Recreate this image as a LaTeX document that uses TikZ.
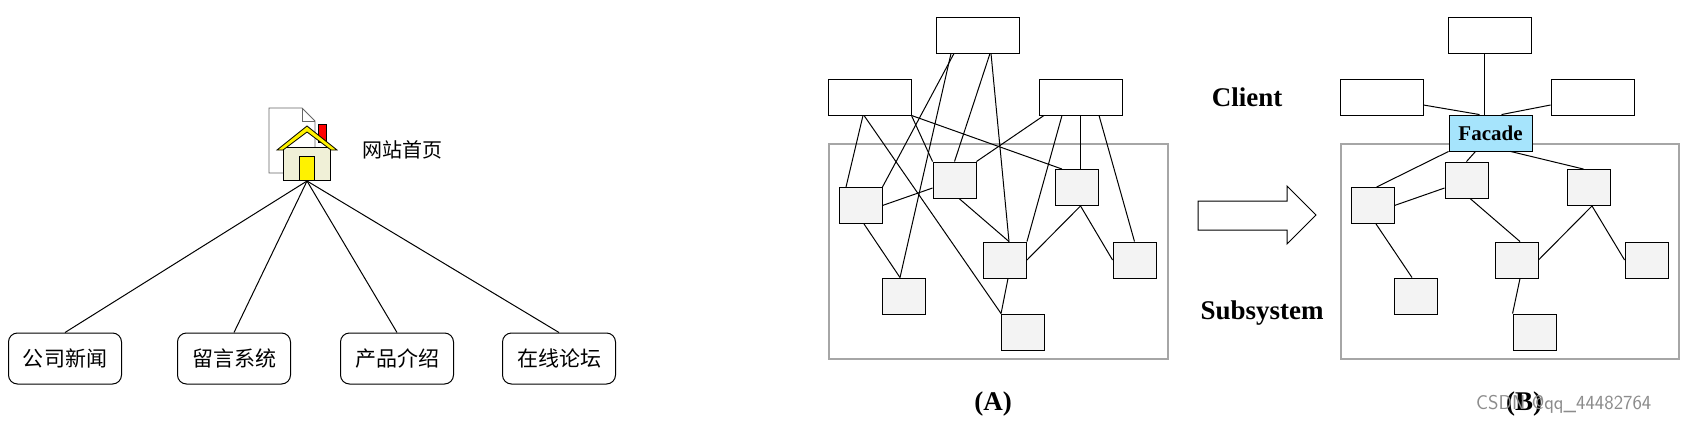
\documentclass[tikz,border=0pt]{standalone}
\usepackage{fontspec}
\setmainfont{Liberation Serif}
\newfontfamily\cjk{Noto Sans CJK SC}
\definecolor{subfill}{RGB}{243,243,243}
\definecolor{facadefill}{RGB}{166,228,252}
\definecolor{bodyfill}{RGB}{240,240,215}
\begin{document}
\begin{tikzpicture}[x=1pt,y=-1pt,
  every node/.style={inner sep=0pt},
  cl/.style={draw,line width=0.9pt,fill=white,minimum width=83pt,minimum height=36pt},
  sb/.style={draw,line width=0.9pt,fill=subfill,minimum width=43pt,minimum height=36pt},
  sys/.style={draw=black!35,line width=1.2pt},
  ln/.style={line width=1pt},
  cn/.style={draw,rounded corners=9pt,line width=1pt,minimum width=113pt,minimum height=51pt,font=\cjk\fontsize{21}{21}\selectfont},
  lbl/.style={font=\bfseries\fontsize{27}{27}\selectfont}]
\fill[white] (0,0) rectangle (1693,423);
\useasboundingbox (0,0) rectangle (1693,423);
% ---- left: website
\filldraw[fill=white,draw=black!60,line width=0.8pt] (269,108)--(302,108)--(315,121)--(315,173)--(269,173)--cycle;
\draw[black!60,line width=0.8pt] (302,108)--(302,121)--(315,121);
\filldraw[fill=red,draw=black,line width=0.6pt] (318,124) rectangle (326,142);
\filldraw[fill=bodyfill,draw=black,line width=0.8pt] (283,147) rectangle (330,180);
\filldraw[fill=yellow,draw=black,line width=0.8pt] (277,150)--(307,126)--(337,150)--(331,150)--(307,132)--(283,150)--cycle;
\filldraw[fill=yellow,draw=black,line width=0.8pt] (299,156) rectangle (314,180);
\coordinate (hub) at (307,181);
\node[font=\cjk\fontsize{20}{20}\selectfont,anchor=west] (home) at (362,150) {网站首页};
\node[cn] (n1) at (65,358.5) {公司新闻};
\node[cn] (n2) at (234,358.5) {留言系统};
\node[cn] (n3) at (397,358.5) {产品介绍};
\node[cn] (n4) at (559,358.5) {在线论坛};
\foreach \n in {n1,n2,n3,n4} \draw[ln] (hub) -- (\n.north);
% ---- (A)
\draw[sys] (829,144) rectangle (1168,359);
\node[cl] (at) at (978,35) {};
\node[cl] (al) at (869.5,97) {};
\node[cl] (ar) at (1080.5,97) {};
\node[sb] (s1) at (860.5,205.5) {};
\node[sb] (s2) at (954.5,180) {};
\node[sb] (s3) at (1077,187.5) {};
\node[sb] (s4) at (1005,260) {};
\node[sb] (s5) at (1134.5,260) {};
\node[sb] (s6) at (904,296) {};
\node[sb] (s7) at (1023,332) {};
\begin{scope}[ln]
\draw ([xshift=-6.5pt]al.south) -- ([xshift=-14.5pt]s1.north);
\draw ([xshift=-5.5pt]al.south) -- (s7.north west);
\draw (al.south east) -- ([xshift=-15pt]s3.north);
\draw (al.south east) -- (s2.north west);
\draw ([xshift=-24pt]at.south) -- (s1.north east);
\draw ([xshift=-27pt]at.south) -- ([xshift=-4pt]s6.north);
\draw ([xshift=12pt]at.south) -- (s2.north);
\draw ([xshift=13pt]at.south) -- ([xshift=4pt]s4.north);
\draw ([xshift=-36.5pt]ar.south) -- (s2.north east);
\draw ([xshift=-18.5pt]ar.south) -- (s4.north east);
\draw (ar.south) -- ([xshift=3.5pt]s3.north);
\draw ([xshift=18.5pt]ar.south) -- (s5.north);
\draw (s1.east) -- ([yshift=-8pt]s2.west);
\draw ([xshift=3.5pt]s1.south) -- ([xshift=-4pt]s6.north);
\draw ([xshift=4.5pt]s2.south) -- ([xshift=4pt]s4.north);
\draw ([xshift=3.5pt]s3.south) -- (s4.east);
\draw ([xshift=3.5pt]s3.south) -- (s5.west);
\draw ([xshift=3pt]s4.south) -- (s7.north west);
\end{scope}
\node[lbl] (la) at (993,404) {(A)};
% ---- arrow
\draw[line width=1pt,fill=white] (1198,201)--(1287,201)--(1287,186)--(1316,215)--(1287,244)--(1287,230)--(1198,230)--cycle;
\node[lbl] (client) at (1247,97) {Client};
\node[lbl] (subsys) at (1262,313) {Subsystem};
% ---- (B)
\draw[sys] (1341,144) rectangle (1679,359);
\node[cl] (bt) at (1489.5,35) {};
\node[cl] (bl) at (1381.5,97) {};
\node[cl] (br) at (1592.5,97) {};
\node[sb] (b1) at (1372.5,205.5) {};
\node[sb] (b2) at (1466.5,180) {};
\node[sb] (b3) at (1588.5,187.5) {};
\node[sb] (b4) at (1516.5,260) {};
\node[sb] (b5) at (1646.5,260) {};
\node[sb] (b6) at (1415.5,296) {};
\node[sb] (b7) at (1534.5,332) {};
\node[cl,fill=facadefill,font=\bfseries\fontsize{21}{21}\selectfont] (fa) at (1490.5,133) {Facade};
\begin{scope}[ln]
\draw ([xshift=-5pt]bt.south) -- ([xshift=-6pt]fa.north);
\draw ([yshift=-8pt]bl.east) -- ([xshift=-11pt]fa.north);
\draw ([yshift=-8pt]br.west) -- ([xshift=11pt]fa.north);
\draw (fa.south west) -- ([xshift=4pt]b1.north);
\draw ([xshift=-15pt]fa.south) -- (b2.north);
\draw ([xshift=20pt]fa.south) -- ([xshift=-5pt]b3.north);
\draw (b1.east) -- ([yshift=-8pt]b2.west);
\draw ([xshift=3.5pt]b1.south) -- ([xshift=-3.5pt]b6.north);
\draw ([xshift=3.5pt]b2.south) -- ([xshift=3.5pt]b4.north);
\draw ([xshift=3.5pt]b3.south) -- (b4.east);
\draw ([xshift=3.5pt]b3.south) -- (b5.west);
\draw ([xshift=3.5pt]b4.south) -- (b7.north west);
\end{scope}
\node[lbl] (lb) at (1524,404) {(B)};
\node[font=\sffamily\fontsize{20}{20}\selectfont,text=black!45,anchor=west] (wm) at (1476,404) {CSDN @qq\_44482764};
\end{tikzpicture}
\end{document}
